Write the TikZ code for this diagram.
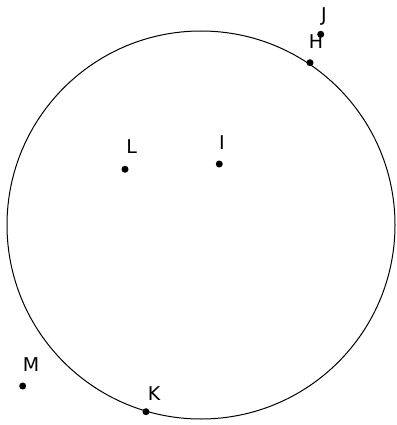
\documentclass[tikz,border=0pt]{standalone}
\usepackage{fontspec}
\setmainfont{DejaVu Sans}
\begin{document}
\begin{tikzpicture}[x=1pt,y=-1pt,
  pt/.style={circle,fill=black,inner sep=0pt,minimum size=7pt},
  lab/.style={anchor=base,inner sep=0pt,font=\fontsize{19}{19}\selectfont}]
\useasboundingbox (0,0) rectangle (396,425);
\node[draw=black,line width=1pt,circle,inner sep=0pt,minimum size=388pt] (c) at (201,225) {};
\node[pt] (J) at (320.7,34.3) {};
\node[pt] (H) at (310,62.7) {};
\node[pt] (L) at (125,169.3) {};
\node[pt] (I) at (219.3,164) {};
\node[pt] (M) at (22.7,386) {};
\node[pt] (K) at (146,411.7) {};
\node[lab] (lJ) at (324,21.5) {J};
\node[lab] (lH) at (316,48.5) {H};
\node[lab] (lL) at (131.7,153.5) {L};
\node[lab] (lI) at (222,149.2) {I};
\node[lab] (lM) at (31,371.5) {M};
\node[lab] (lK) at (154,400) {K};
\end{tikzpicture}
\end{document}
